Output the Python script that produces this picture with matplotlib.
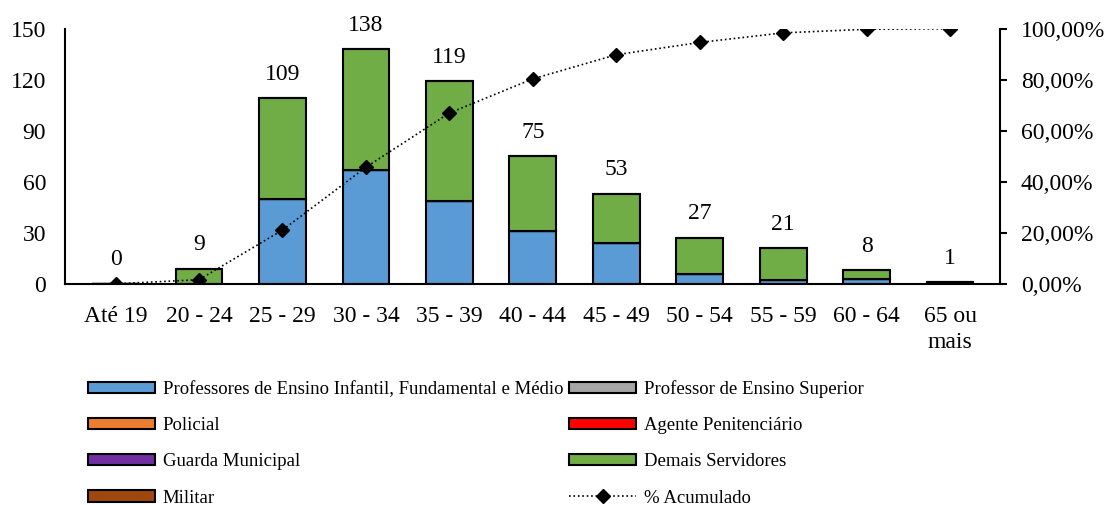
import numpy as np
import matplotlib.pyplot as plt
from matplotlib.ticker import FuncFormatter

plt.rcParams['font.family'] = ['Liberation Serif', 'DejaVu Serif']

# faixas etarias e quantidades por categoria
faixas = ['Até 19', '20 - 24', '25 - 29', '30 - 34', '35 - 39', '40 - 44',
          '45 - 49', '50 - 54', '55 - 59', '60 - 64', '65 ou\nmais']
professores = [0, 0, 50, 67, 49, 31, 24, 6, 2, 3, 0]
prof_superior = [0, 0, 0, 0, 0, 0, 0, 0, 0, 0, 0]
policial = [0, 0, 0, 0, 0, 0, 0, 0, 0, 0, 0]
agente = [0, 0, 0, 0, 0, 0, 0, 0, 0, 0, 0]
guarda = [0, 0, 0, 0, 0, 0, 0, 0, 0, 0, 0]
demais = [0, 9, 59, 71, 70, 44, 29, 21, 19, 5, 1]
militar = [0, 0, 0, 0, 0, 0, 0, 0, 0, 0, 0]

series = [
    ('Professores de Ensino Infantil, Fundamental e Médio', professores, '#5b9bd5'),
    ('Professor de Ensino Superior', prof_superior, '#a5a5a5'),
    ('Policial', policial, '#ed7d31'),
    ('Agente Penitenciário', agente, '#ff0000'),
    ('Guarda Municipal', guarda, '#7030a0'),
    ('Demais Servidores', demais, '#70ad47'),
    ('Militar', militar, '#9e480e'),
]

totais = np.sum([s[1] for s in series], axis=0)
acumulado = np.cumsum(totais) / totais.sum()

fig = plt.figure(figsize=(11.1, 5.05), dpi=100)
ax = fig.add_axes([0.059, 0.438, 0.842, 0.505])
x = np.arange(len(faixas))

handles = {}
base = np.zeros(len(faixas))
for nome, vals, cor in series:
    vals = np.array(vals)
    h = ax.bar(x, vals, 0.56, bottom=base, color=cor, edgecolor='black', linewidth=1.5)
    handles[nome] = h
    base = base + vals

for xi, t in zip(x, totais):
    ax.text(xi, t + 8, str(t), ha='center', va='bottom', fontsize=17)

ax.set_ylim(0, 150)
ax.set_yticks(range(0, 151, 30))
ax.set_xlim(-0.6, len(faixas) - 0.4)
ax.set_xticks(x)
ax.set_xticklabels(faixas, linespacing=1.3)
ax.tick_params(axis='both', labelsize=17, length=0)
ax.tick_params(axis='x', pad=16)
ax.tick_params(axis='y', pad=14)
ax.spines['top'].set_visible(False)
ax.spines['right'].set_visible(False)
for s in ['left', 'bottom']:
    ax.spines[s].set_linewidth(1.5)

ax2 = ax.twinx()
linha, = ax2.plot(x, acumulado, color='black', linestyle=':', linewidth=1.2,
                  marker='D', markersize=7.5, label='% Acumulado')
ax2.set_ylim(0, 1.0)
ax2.set_yticks(np.arange(0, 1.01, 0.2))
ax2.yaxis.set_major_formatter(FuncFormatter(lambda v, p: f'{v*100:.2f}%'.replace('.', ',')))
ax2.tick_params(axis='y', labelsize=17, length=5, width=1.5, direction='out', pad=10)
ax2.spines['top'].set_visible(False)
ax2.spines['left'].set_visible(False)
ax2.spines['bottom'].set_visible(False)
ax2.spines['right'].set_linewidth(1.5)

ordem = ['Professores de Ensino Infantil, Fundamental e Médio', 'Policial',
         'Guarda Municipal', 'Militar', 'Professor de Ensino Superior',
         'Agente Penitenciário', 'Demais Servidores']
hs = [handles[n] for n in ordem] + [linha]
labels = ordem + ['% Acumulado']
fig.legend(hs, labels, loc='upper left', bbox_to_anchor=(0.079, 0.247), ncol=2,
           frameon=False, fontsize=13.5, handlelength=3.6, handleheight=0.55,
           labelspacing=1.02, columnspacing=0.3, handletextpad=0.4,
           borderaxespad=0, borderpad=0)

fig.savefig('out.png', dpi=100)
